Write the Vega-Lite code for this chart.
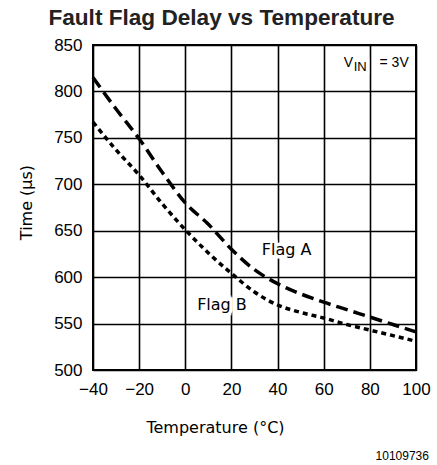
{
  "$schema": "https://vega.github.io/schema/vega-lite/v6.json",
  "width": 323,
  "height": 325,
  "autosize": {"type": "none"},
  "padding": {"left": 93, "top": 45, "right": 21, "bottom": 95},
  "background": "white",
  "title": {
    "text": "Fault Flag Delay vs Temperature",
    "font": "Liberation Sans",
    "fontSize": 22.6,
    "fontWeight": "bold",
    "color": "#222222",
    "anchor": "middle",
    "frame": "group",
    "dx": -33,
    "offset": 6
  },
  "config": {
    "view": {"stroke": "black", "strokeWidth": 2},
    "axis": {
      "grid": true,
      "gridColor": "black",
      "gridWidth": 1.6,
      "gridOpacity": 1,
      "ticks": false,
      "tickSize": 0,
      "domain": false,
      "labelFlush": false,
      "labelFont": "Liberation Sans",
      "labelFontSize": 17,
      "labelColor": "black",
      "titleFont": "DejaVu Sans",
      "titleFontSize": 16,
      "titleFontWeight": "normal",
      "titleColor": "black"
    }
  },
  "datasets": {
    "curves": [
      {"flag": "Flag A", "temp": -40, "time": 815},
      {"flag": "Flag A", "temp": -30, "time": 781},
      {"flag": "Flag A", "temp": -20, "time": 749},
      {"flag": "Flag A", "temp": -10, "time": 713},
      {"flag": "Flag A", "temp": 0, "time": 680},
      {"flag": "Flag A", "temp": 10, "time": 657},
      {"flag": "Flag A", "temp": 20, "time": 630},
      {"flag": "Flag A", "temp": 30, "time": 608},
      {"flag": "Flag A", "temp": 40, "time": 593},
      {"flag": "Flag A", "temp": 50, "time": 582},
      {"flag": "Flag A", "temp": 60, "time": 573},
      {"flag": "Flag A", "temp": 70, "time": 565},
      {"flag": "Flag A", "temp": 80, "time": 557},
      {"flag": "Flag A", "temp": 90, "time": 549},
      {"flag": "Flag A", "temp": 100, "time": 541},
      {"flag": "Flag B", "temp": -40, "time": 767},
      {"flag": "Flag B", "temp": -30, "time": 737},
      {"flag": "Flag B", "temp": -20, "time": 710},
      {"flag": "Flag B", "temp": -10, "time": 679},
      {"flag": "Flag B", "temp": 0, "time": 651},
      {"flag": "Flag B", "temp": 10, "time": 626},
      {"flag": "Flag B", "temp": 20, "time": 604},
      {"flag": "Flag B", "temp": 30, "time": 584},
      {"flag": "Flag B", "temp": 40, "time": 570},
      {"flag": "Flag B", "temp": 50, "time": 562},
      {"flag": "Flag B", "temp": 60, "time": 556},
      {"flag": "Flag B", "temp": 70, "time": 549},
      {"flag": "Flag B", "temp": 80, "time": 543},
      {"flag": "Flag B", "temp": 90, "time": 537},
      {"flag": "Flag B", "temp": 100, "time": 531}
    ],
    "flaglabels": [
      {"label": "Flag A", "temp": 43.9, "time": 629.6},
      {"label": "Flag B", "temp": 15.9, "time": 569.7}
    ],
    "vmain": [
      {"label": "V", "temp": 68.7, "time": 826},
      {"label": "= 3V", "temp": 84.2, "time": 826}
    ],
    "vsub": [
      {"label": "IN", "temp": 73.0, "time": 821.5}
    ],
    "note": [
      {"label": "10109736", "temp": 105.6, "time": 403}
    ]
  },
  "layer": [
    {
      "data": {"name": "flaglabels"},
      "mark": {"type": "text", "font": "DejaVu Sans", "fontSize": 16, "align": "center", "baseline": "middle", "stroke": "white", "strokeWidth": 7, "fill": "white"},
      "encoding": {
        "x": {"field": "temp", "type": "quantitative"},
        "y": {"field": "time", "type": "quantitative"},
        "text": {"field": "label"}
      }
    },
    {
      "data": {"name": "vmain"},
      "mark": {"type": "text", "font": "Liberation Sans", "fontSize": 14, "align": "left", "baseline": "alphabetic", "stroke": "white", "strokeWidth": 7, "fill": "white"},
      "encoding": {
        "x": {"field": "temp", "type": "quantitative"},
        "y": {"field": "time", "type": "quantitative"},
        "text": {"field": "label"}
      }
    },
    {
      "data": {"name": "vsub"},
      "mark": {"type": "text", "font": "Liberation Sans", "fontSize": 13, "align": "left", "baseline": "alphabetic", "stroke": "white", "strokeWidth": 7, "fill": "white"},
      "encoding": {
        "x": {"field": "temp", "type": "quantitative"},
        "y": {"field": "time", "type": "quantitative"},
        "text": {"field": "label"}
      }
    },
    {
      "data": {"name": "curves"},
      "mark": {"type": "line", "color": "black", "strokeWidth": 3.5, "interpolate": "monotone"},
      "encoding": {
        "x": {
          "field": "temp",
          "type": "quantitative",
          "scale": {"domain": [-40, 100], "nice": false, "zero": false},
          "axis": {
            "values": [-40, -20, 0, 20, 40, 60, 80, 100],
            "labelPadding": 11,
            "title": "Temperature (°C)",
            "titleX": 122,
            "titleY": 62,
            "titleAlign": "center",
            "titleBaseline": "alphabetic"
          }
        },
        "y": {
          "field": "time",
          "type": "quantitative",
          "scale": {"domain": [500, 850], "nice": false, "zero": false},
          "axis": {
            "values": [500, 550, 600, 650, 700, 750, 800, 850],
            "labelPadding": 11,
            "title": "Time (µs)",
            "titleX": -62,
            "titleY": 157,
            "titleAngle": -90,
            "titleAlign": "center",
            "titleBaseline": "alphabetic"
          }
        },
        "detail": {"field": "flag"},
        "strokeDash": {
          "field": "flag",
          "type": "nominal",
          "scale": {"domain": ["Flag A", "Flag B"], "range": [[12, 6], [5, 4]]},
          "legend": null
        }
      }
    },
    {
      "data": {"name": "flaglabels"},
      "mark": {"type": "text", "font": "DejaVu Sans", "fontSize": 16, "align": "center", "baseline": "middle", "color": "black"},
      "encoding": {
        "x": {"field": "temp", "type": "quantitative"},
        "y": {"field": "time", "type": "quantitative"},
        "text": {"field": "label"}
      }
    },
    {
      "data": {"name": "vmain"},
      "mark": {"type": "text", "font": "Liberation Sans", "fontSize": 14, "align": "left", "baseline": "alphabetic", "color": "black"},
      "encoding": {
        "x": {"field": "temp", "type": "quantitative"},
        "y": {"field": "time", "type": "quantitative"},
        "text": {"field": "label"}
      }
    },
    {
      "data": {"name": "vsub"},
      "mark": {"type": "text", "font": "Liberation Sans", "fontSize": 13, "align": "left", "baseline": "alphabetic", "color": "black"},
      "encoding": {
        "x": {"field": "temp", "type": "quantitative"},
        "y": {"field": "time", "type": "quantitative"},
        "text": {"field": "label"}
      }
    },
    {
      "data": {"name": "note"},
      "mark": {"type": "text", "font": "Liberation Sans", "fontSize": 12, "align": "right", "baseline": "alphabetic", "color": "black"},
      "encoding": {
        "x": {"field": "temp", "type": "quantitative"},
        "y": {"field": "time", "type": "quantitative"},
        "text": {"field": "label"}
      }
    }
  ]
}
